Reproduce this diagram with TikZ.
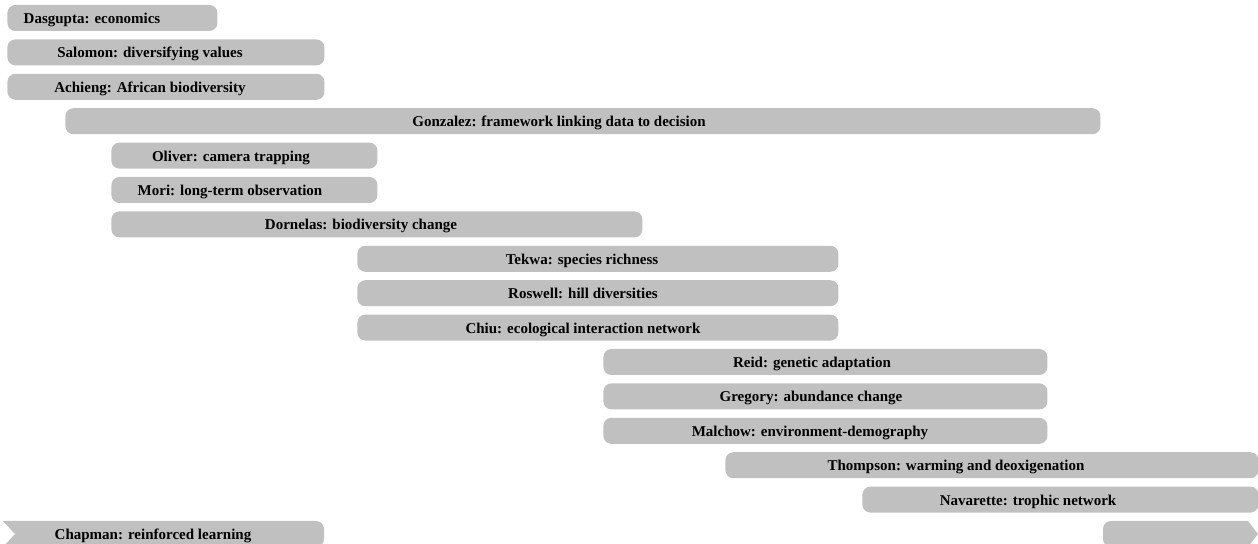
\documentclass[tikz,border=0pt]{standalone}
\usepackage{fontspec}
\setmainfont{Liberation Serif}
\usepackage{tikz}
\usetikzlibrary{positioning}
\definecolor{barfill}{HTML}{C0C0C0}

\begin{document}
\begin{tikzpicture}[
        x=0.5pt, y=-0.5pt,
        font=\fontsize{7.5}{9}\selectfont\bfseries,
        bar/.style={rectangle, fill=barfill, rounded corners=4pt, minimum height=13pt, inner sep=0pt, anchor=west},
        lbl/.style={inner sep=0pt, text=black, anchor=base, yshift=-2.75pt}
    ]
        \useasboundingbox (0,0) rectangle (1258,544);

        % Bars
        \node [bar, minimum width=105pt] (dasgupta) at (7,18) {};
        \node [bar, minimum width=158.5pt] (salomon) at (7,52.4) {};
        \node [bar, minimum width=158.5pt] (achieng) at (7,86.8) {};
        \node [bar, minimum width=517.5pt] (gonzalez) at (65,121.2) {};
        \node [bar, minimum width=133pt] (oliver) at (111,155.6) {};
        \node [bar, minimum width=133pt] (mori) at (111,190) {};
        \node [bar, minimum width=265.5pt] (dornelas) at (111,224.4) {};
        \node [bar, minimum width=240.5pt] (tekwa) at (357,258.8) {};
        \node [bar, minimum width=240.5pt] (roswell) at (357,293.2) {};
        \node [bar, minimum width=240.5pt] (chiu) at (357,327.6) {};
        \node [bar, minimum width=222pt] (reid) at (603,362) {};
        \node [bar, minimum width=222pt] (gregory) at (603,396.4) {};
        \node [bar, minimum width=222pt] (malchow) at (603,430.8) {};
        \node [bar, minimum width=266.5pt] (thompson) at (725,465.2) {};
        \node [bar, minimum width=198pt] (navarette) at (862,499.6) {};

        % Bars running past the edges
        \fill [barfill] (3,521) -- (316,521) arc[start angle=90, end angle=0, radius=4pt]
            -- (324,539) arc[start angle=0, end angle=-90, radius=4pt]
            -- (3,547) -- (15,534) -- cycle;
        \fill [barfill] (1111,521) -- (1248,521) -- (1258,534) -- (1248,547)
            -- (1111,547) arc[start angle=270, end angle=180, radius=4pt]
            -- (1103,529) arc[start angle=180, end angle=90, radius=4pt] -- cycle;

        % Labels
        \node [lbl] (dasguptalbl) at (92,18) {Dasgupta: economics};
        \node [lbl] (salomonlbl) at (150,52.4) {Salomon: diversifying values};
        \node [lbl] (achienglbl) at (150,86.8) {Achieng: African biodiversity};
        \node [lbl] (gonzalezlbl) at (559,121.2) {Gonzalez: framework linking data to decision};
        \node [lbl] (oliverlbl) at (231,155.6) {Oliver: camera trapping};
        \node [lbl] (morilbl) at (230,190) {Mori: long-term observation};
        \node [lbl] (dornelaslbl) at (361,224.4) {Dornelas: biodiversity change};
        \node [lbl] (tekwalbl) at (582,258.8) {Tekwa: species richness};
        \node [lbl] (roswelllbl) at (583,293.2) {Roswell: hill diversities};
        \node [lbl] (chiulbl) at (583,327.6) {Chiu: ecological interaction network};
        \node [lbl] (reidlbl) at (812,362) {Reid: genetic adaptation};
        \node [lbl] (gregorylbl) at (811,396.4) {Gregory: abundance change};
        \node [lbl] (malchowlbl) at (810,430.8) {Malchow: environment-demography};
        \node [lbl] (thompsonlbl) at (956,465.2) {Thompson: warming and deoxigenation};
        \node [lbl] (navarettelbl) at (1028,499.6) {Navarette: trophic network};
        \node [lbl] (chapmanlbl) at (153,534) {Chapman: reinforced learning};

    \end{tikzpicture}
\end{document}
